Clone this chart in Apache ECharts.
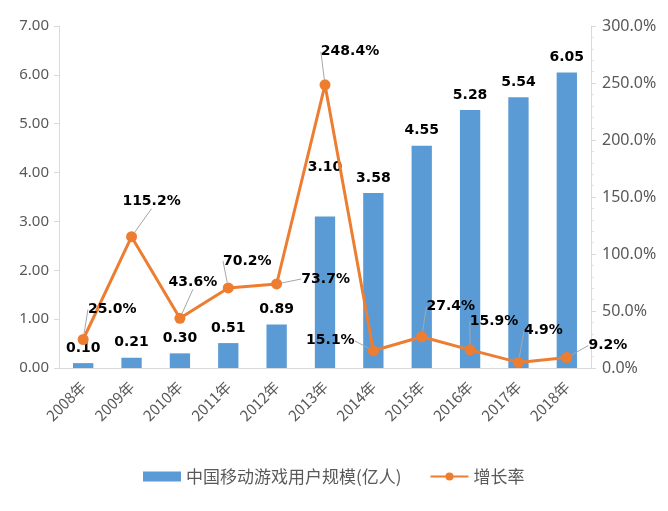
<!DOCTYPE html>
<html>
<head>
<meta charset="utf-8">
<script src="https://cdn.jsdelivr.net/npm/echarts@6/dist/echarts.min.js"></script>
<style>
  html, body { margin: 0; padding: 0; background: #fff; }
  #container { width: 668px; height: 511px; }
</style>
</head>
<body>
<div id="container"></div>
<script>
var years = ['2008年', '2009年', '2010年', '2011年', '2012年', '2013年', '2014年', '2015年', '2016年', '2017年', '2018年'];
var users = [0.10, 0.21, 0.30, 0.51, 0.89, 3.10, 3.58, 4.55, 5.28, 5.54, 6.05]; // 亿人
var growth = [25.0, 115.2, 43.6, 70.2, 73.7, 248.4, 15.1, 27.4, 15.9, 4.9, 9.2]; // %

// label offsets for the growth labels (Excel style leader lines)
var growthLabelOffset = [
  [29, -30], [20, -35], [13, -36], [19, -27], [49, -5], [25, -33],
  [-43, -10], [29, -30], [24, -29], [25, -32], [41, -12]
];

var dom = document.getElementById('container');
var myChart = echarts.init(dom);

var labelFont = 'DejaVu Sans';

var option = {
  animation: false,
  grid: {
    left: 59,
    right: 77,
    top: 26,
    bottom: 143
  },
  legend: {
    left: 138,
    bottom: 21,
    itemWidth: 38,
    itemHeight: 10,
    itemGap: 28,
    textStyle: { color: '#595959', fontSize: 17, fontFamily: 'Noto Sans CJK SC' },
    data: [
      { name: '中国移动游戏用户规模(亿人)', icon: 'rect' },
      { name: '增长率' }
    ]
  },
  xAxis: {
    type: 'category',
    data: years,
    axisLine: { lineStyle: { color: '#d9d9d9' } },
    axisTick: { show: false },
    axisLabel: { rotate: 45, margin: 16, color: '#595959', fontSize: 15, fontFamily: 'Noto Sans CJK SC' }
  },
  yAxis: [
    {
      type: 'value',
      min: 0,
      max: 7,
      interval: 1,
      splitLine: { show: false },
      axisLine: { show: true, lineStyle: { color: '#d9d9d9' } },
      axisTick: { show: true, length: 5, lineStyle: { color: '#d9d9d9' } },
      axisLabel: {
        formatter: function (v) { return v.toFixed(2); },
        margin: 10, color: '#595959', fontSize: 15, fontFamily: 'Noto Sans'
      }
    },
    {
      type: 'value',
      min: 0,
      max: 300,
      interval: 50,
      splitLine: { show: false },
      axisLine: { show: true, lineStyle: { color: '#d9d9d9' } },
      axisTick: { show: true, length: 5, lineStyle: { color: '#d9d9d9' } },
      minorTick: { show: true, splitNumber: 5, length: 3, lineStyle: { color: '#e3e3e3' } },
      axisLabel: {
        formatter: function (v) { return v.toFixed(1) + '%'; },
        margin: 11, color: '#595959', fontSize: 16, fontFamily: 'Noto Sans'
      }
    }
  ],
  series: [
    {
      name: '中国移动游戏用户规模(亿人)',
      type: 'bar',
      barWidth: '42%',
      yAxisIndex: 0,
      itemStyle: { color: '#5b9bd5' },
      label: {
        show: true,
        position: 'top',
        distance: 8,
        color: '#000',
        fontWeight: 'bold',
        fontSize: 14,
        fontFamily: labelFont,
        formatter: function (p) { return p.value.toFixed(2); }
      },
      data: users.map(function (v, i) {
        if (i === 5) {
          return { value: v, label: { distance: 42 } };
        }
        return v;
      }),
      z: 2
    },
    {
      name: '增长率',
      type: 'line',
      yAxisIndex: 1,
      symbol: 'circle',
      symbolSize: 11,
      lineStyle: { color: '#ed7d31', width: 3 },
      itemStyle: { color: '#ed7d31' },
      label: {
        show: true,
        position: 'inside',
        color: '#000',
        fontWeight: 'bold',
        fontSize: 14,
        fontFamily: labelFont,
        formatter: function (p) { return p.value.toFixed(1) + '%'; }
      },
      labelLine: {
        show: true,
        lineStyle: { color: '#a6a6a6', width: 1 }
      },
      labelLayout: function (params) {
        var o = growthLabelOffset[params.dataIndex];
        return { dx: o[0], dy: o[1] };
      },
      data: growth,
      z: 3
    }
  ]
};

myChart.setOption(option);
</script>
</body>
</html>
